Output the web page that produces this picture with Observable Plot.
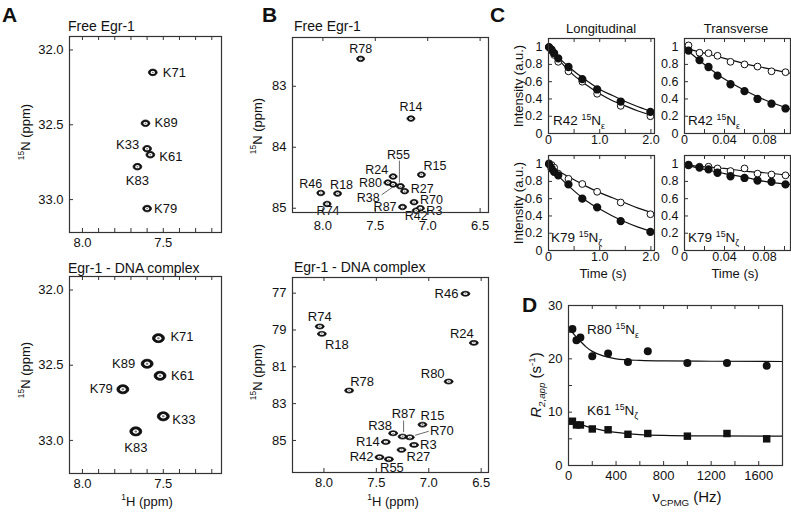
<!DOCTYPE html>
<html>
<head>
<meta charset="utf-8">
<script src="https://cdn.jsdelivr.net/npm/d3@7"></script>
<script src="https://cdn.jsdelivr.net/npm/@observablehq/plot@0.6"></script>
<style>
  html, body { margin: 0; padding: 0; background: #fff; }
  #fig { position: relative; width: 791px; height: 512px; overflow: hidden; font-family: "Liberation Sans", Arial, sans-serif; color: #111; }
  #fig sup, #fig sub { font-size: 0.65em; line-height: 0; }
  #fig svg { position: absolute; }
</style>
</head>
<body>
<div id="fig"></div>
<script>
// ---------------- DATA ----------------
// Panel A: lysine NZ peaks (1H ppm, 15N ppm)
const aFreeRes = ["K71", "K89", "K33", "K61", "K83", "K79"];
const aFreeH   = [7.565, 7.61, 7.60, 7.58, 7.66, 7.60];
const aFreeN   = [32.15, 32.49, 32.66, 32.70, 32.78, 33.06];
const aCplxRes = ["K71", "K89", "K61", "K79", "K33", "K83"];
const aCplxH   = [7.53, 7.60, 7.52, 7.75, 7.50, 7.67];
const aCplxN   = [32.32, 32.49, 32.57, 32.66, 32.84, 32.94];

// Panel B: arginine NE peaks
const bFreeRes = ["R78", "R14", "R24", "R15", "R55", "R80", "R38", "R27", "R46", "R18", "R74", "R70", "R87", "R3", "R42"];
const bFreeH   = [7.64, 7.16, 7.33, 7.06, 7.26, 7.38, 7.33, 7.22, 8.02, 7.86, 7.96, 7.13, 7.24, 7.07, 7.11];
const bFreeN   = [82.55, 83.53, 84.48, 84.45, 84.64, 84.58, 84.61, 84.72, 84.75, 84.76, 84.93, 84.90, 84.98, 85.00, 85.04];
const bCplxRes = ["R46", "R74", "R18", "R24", "R80", "R78", "R15", "R38", "R87", "R70", "R14", "R3", "R27", "R42", "R55"];
const bCplxH   = [6.65, 8.04, 8.02, 6.57, 6.81, 7.76, 7.06, 7.34, 7.25, 7.18, 7.41, 7.14, 7.26, 7.47, 7.38];
const bCplxN   = [77.03, 78.81, 79.21, 79.70, 81.80, 82.29, 84.14, 84.61, 84.79, 84.83, 85.08, 85.24, 85.51, 85.91, 86.02];

// Panel C: relaxation decays (intensity, a.u.)
const tLong  = [0.01, 0.06, 0.11, 0.19, 0.39, 0.66, 0.95, 1.41, 1.99];
const tTrans = [0.004, 0.015, 0.024, 0.033, 0.046, 0.060, 0.073, 0.087, 0.101];
const r42LongFilled  = [1.00, 0.97, 0.93, 0.87, 0.77, 0.63, 0.51, 0.37, 0.25];
const r42LongOpen    = [1.00, 0.96, 0.91, 0.83, 0.72, 0.60, 0.46, 0.32, 0.20];
const r42TransFilled = [0.96, 0.85, 0.77, 0.67, 0.57, 0.49, 0.40, 0.345, 0.29];
const r42TransOpen   = [1.02, 0.935, 0.93, 0.90, 0.83, 0.80, 0.775, 0.72, 0.71];
const k79LongFilled  = [1.00, 0.95, 0.91, 0.87, 0.765, 0.60, 0.50, 0.34, 0.215];
const k79LongOpen    = [1.01, 0.99, 0.96, 0.89, 0.83, 0.77, 0.68, 0.556, 0.42];
const k79TransFilled = [0.99, 0.96, 0.94, 0.90, 0.86, 0.84, 0.81, 0.795, 0.765];
const k79TransOpen   = [0.99, 0.97, 0.97, 0.95, 0.92, 0.95, 0.89, 0.88, 0.87];
// fitted curves
const fitTLong  = [0, 0.25, 0.5, 0.75, 1.0, 1.25, 1.5, 1.75, 2.07];
const fitTTrans = [0, 0.02, 0.04, 0.06, 0.08, 0.105];
const fitR42LongFilled  = [1.00, 0.85, 0.72, 0.61, 0.51, 0.44, 0.37, 0.31, 0.245];
const fitR42LongOpen    = [1.00, 0.82, 0.67, 0.56, 0.46, 0.38, 0.32, 0.26, 0.20];
const fitR42TransFilled = [0.99, 0.80, 0.63, 0.50, 0.39, 0.285];
const fitR42TransOpen   = [0.99, 0.93, 0.87, 0.81, 0.76, 0.70];
const fitK79LongFilled  = [1.00, 0.83, 0.69, 0.57, 0.48, 0.40, 0.33, 0.27, 0.21];
const fitK79LongOpen    = [1.00, 0.90, 0.82, 0.74, 0.67, 0.61, 0.55, 0.49, 0.43];
const fitK79TransFilled = [0.99, 0.94, 0.89, 0.85, 0.80, 0.765];
const fitK79TransOpen   = [0.99, 0.97, 0.95, 0.92, 0.90, 0.87];

// Panel D: relaxation dispersion
const nuCpmg = [33, 67, 100, 200, 333, 500, 667, 1000, 1333, 1667];
const r2R80  = [25.6, 23.5, 24.0, 20.5, 21.0, 19.4, 21.4, 19.2, 19.2, 18.7];
const r2K61  = [8.3, 7.6, 7.6, 6.85, 6.7, 5.85, 6.0, 5.5, 6.0, 5.0];
const fitNu     = [0, 50, 100, 150, 200, 300, 400, 600, 800, 1200, 1800];
const fitR2R80  = [26.0, 24.5, 23.3, 22.2, 21.4, 20.5, 20.0, 19.7, 19.6, 19.55, 19.5];
const fitR2K61  = [8.3, 8.0, 7.7, 7.35, 7.05, 6.55, 6.2, 5.8, 5.65, 5.55, 5.5];

// ---------------- LAYOUT / STYLE ----------------
const labelsAFree = { K71: [10, 0, "start"], K89: [9, 0, "start"], K33: [-8, -4, "end"], K61: [9, 2, "start"], K83: [0, 14, "middle"], K79: [7, 0, "start"] };
const labelsACplx = { K71: [12, -1, "start"], K89: [-12, 0, "end"], K61: [11, 0, "start"], K79: [-10, 0, "end"], K33: [9, 3, "start"], K83: [0, 16, "middle"] };
const labelsBFree = { R78: [0, -10, "middle"], R14: [0, -12, "middle"], R24: [-5, -7, "end"], R15: [2, -9, "start"], R55: [-2, -31, "middle"], R80: [-6, 0, "end"], R38: [-25, 14, "middle"], R27: [6, -2, "start"], R46: [-10, -9, "middle"], R18: [4, -9, "middle"], R74: [1, 7, "middle"], R70: [6, -2, "start"], R87: [-6, 0, "end"], R3: [6, 3, "start"], R42: [0, 5, "middle"] };
const labelsBCplx = { R46: [-7, 0, "end"], R74: [0, -10, "middle"], R18: [15, 11, "middle"], R24: [-12, -9, "middle"], R80: [-16, -8, "middle"], R78: [13, -9, "middle"], R15: [10, -9, "middle"], R38: [-13, -7, "middle"], R87: [1, -23, "middle"], R70: [20, -7, "start"], R14: [-6, 0, "end"], R3: [6, 0, "start"], R27: [5, 7, "start"], R42: [-6, 0, "end"], R55: [3, 9, "middle"] };
const leadersBFree = [{x1: 7.27, y1: 84.22, x2: 7.27, y2: 84.58}, {x1: 7.44, y1: 84.78, x2: 7.34, y2: 84.66}];
const leadersBCplx = [{x1: 7.24, y1: 83.92, x2: 7.24, y2: 84.55}, {x1: 7.00, y1: 84.50, x2: 7.13, y2: 84.72}];

const FONT = '"Liberation Sans", Arial, sans-serif';
const M = 40;
const fig = document.getElementById("fig");

function panel({frame, xDomain, yDomain, xTicks, xFmt, xMinor, yTicks, yFmt, yMinor, marks, fontSize = 13, tickLen = 4, xPad = 5}) {
  const [x0, y0, x1, y1] = frame;
  const fw = x1 - x0, fh = y1 - y0;
  const inward = [];
  if (xMinor) {
    inward.push(Plot.ruleX(xMinor, {x: d => d, insetTop: fh - tickLen, stroke: "#333"}));
    inward.push(Plot.ruleX(xMinor, {x: d => d, insetBottom: fh - tickLen, stroke: "#333"}));
  }
  if (yMinor) {
    inward.push(Plot.ruleY(yMinor, {y: d => d, insetRight: fw - tickLen, stroke: "#333"}));
  }
  const svg = Plot.plot({
    width: fw + 2 * M, height: fh + 2 * M,
    marginLeft: M, marginRight: M, marginTop: M, marginBottom: M,
    style: {fontFamily: FONT, fontSize: fontSize + "px", color: "#111", background: "transparent", overflow: "visible"},
    x: {domain: xDomain}, y: {domain: yDomain},
    marks: [
      ...inward,
      Plot.axisX({ticks: xTicks, tickFormat: xFmt, tickSize: 0, tickPadding: xPad, label: null, fontSize}),
      Plot.axisY({ticks: yTicks, tickFormat: yFmt, tickSize: 0, tickPadding: 6, label: null, fontSize}),
      ...marks,
      Plot.frame({stroke: "#333", strokeWidth: 1.2})
    ]
  });
  svg.style.left = (x0 - M) + "px";
  svg.style.top = (y0 - M) + "px";
  fig.appendChild(svg);
}

function ellipseSymbol(aspect) {
  const k = 0.5523;
  return {
    draw(ctx, size) {
      const r = Math.sqrt(size / Math.PI);
      const rx = r * aspect, ry = r / aspect;
      ctx.moveTo(rx, 0);
      ctx.bezierCurveTo(rx, ry * k, rx * k, ry, 0, ry);
      ctx.bezierCurveTo(-rx * k, ry, -rx, ry * k, -rx, 0);
      ctx.bezierCurveTo(-rx, -ry * k, -rx * k, -ry, 0, -ry);
      ctx.bezierCurveTo(rx * k, -ry, rx, -ry * k, rx, 0);
      ctx.closePath();
    }
  };
}

function peakMarks(res, H, N, labels, r, aspect, fontSize = 13) {
  const data = res.map((id, i) => ({id, h: H[i], n: N[i]}));
  const sym = ellipseSymbol(aspect);
  const marks = [
    Plot.dot(data, {x: "h", y: "n", r, symbol: sym, fill: "#111", stroke: "#111", strokeWidth: 0.8}),
    Plot.dot(data, {x: "h", y: "n", r: r * 0.5, symbol: sym, fill: "#fff"}),
    Plot.dot(data, {x: "h", y: "n", r: r * 0.22, symbol: sym, fill: "#777"})
  ];
  for (const d of data) {
    const [dx, dy, anchor] = labels[d.id];
    marks.push(Plot.text([d], {x: "h", y: "n", text: "id", dx, dy, textAnchor: anchor, fontSize, fill: "#111"}));
  }
  return marks;
}

function leaderMarks(leaders) {
  return [Plot.link(leaders, {x1: "x1", y1: "y1", x2: "x2", y2: "y2", stroke: "#444", strokeWidth: 0.8})];
}

function text(html, x, y, {size = 13, anchor = "start", rotate = false, weight = "normal"} = {}) {
  const el = document.createElement("div");
  el.innerHTML = html;
  Object.assign(el.style, {position: "absolute", left: x + "px", top: y + "px", fontSize: size + "px", fontWeight: weight, whiteSpace: "nowrap", lineHeight: "1", color: "#111"});
  const tx = anchor === "middle" ? "-50%" : anchor === "end" ? "-100%" : "0";
  el.style.transform = `translate(${rotate ? "-50%" : tx},-50%)` + (rotate ? " rotate(-90deg)" : "");
  fig.appendChild(el);
}

const f1 = d => d.toFixed(1);
const fInt = d => String(d);
const fInten = d => (d === 0 || d === 1) ? String(d) : d.toFixed(1);
const aMinor = [8.0, 7.9, 7.8, 7.7, 7.6, 7.5, 7.4, 7.3, 7.2];

// ---------------- PANEL A ----------------
panel({
  frame: [69, 36, 221, 232], xDomain: [8.08, 7.14], yDomain: [33.22, 31.91],
  xTicks: [8.0, 7.5], xFmt: f1, xMinor: aMinor,
  yTicks: [32.0, 32.5, 33.0], yFmt: f1, yMinor: [32.0, 32.5, 33.0],
  marks: peakMarks(aFreeRes, aFreeH, aFreeN, labelsAFree, 3.8, 1.15)
});
panel({
  frame: [69, 276, 221, 473], xDomain: [8.08, 7.14], yDomain: [33.22, 31.91],
  xTicks: [8.0, 7.5], xFmt: f1, xMinor: aMinor,
  yTicks: [32.0, 32.5, 33.0], yFmt: f1, yMinor: [32.0, 32.5, 33.0],
  marks: peakMarks(aCplxRes, aCplxH, aCplxN, labelsACplx, 5.2, 1.15)
});

// ---------------- PANEL B ----------------
panel({
  frame: [292, 37, 488, 212], xDomain: [8.29, 6.42], yDomain: [85.07, 82.2],
  xTicks: [8.0, 7.5, 7.0, 6.5], xFmt: f1, xMinor: [8.0, 7.5, 7.0, 6.5], xPad: 8,
  yTicks: [83, 84, 85], yFmt: fInt, yMinor: [83, 84, 85],
  marks: [...leaderMarks(leadersBFree), ...peakMarks(bFreeRes, bFreeH, bFreeN, labelsBFree, 3.3, 1.2, 12.5)]
});
panel({
  frame: [292, 277, 488, 472], xDomain: [8.3, 6.43], yDomain: [86.74, 76.15],
  xTicks: [8.0, 7.5, 7.0, 6.5], xFmt: f1, xMinor: [8.0, 7.5, 7.0, 6.5],
  yTicks: [77, 79, 81, 83, 85], yFmt: fInt, yMinor: [77, 79, 81, 83, 85],
  marks: [...leaderMarks(leadersBCplx), ...peakMarks(bCplxRes, bCplxH, bCplxN, labelsBCplx, 3.3, 1.35)]
});

// ---------------- PANEL C ----------------
function decayMarks(t, filled, open, tf, fitFilled, fitOpen) {
  return [
    Plot.line(tf.map((x, i) => ({x, y: fitFilled[i]})), {x: "x", y: "y", curve: "monotone-x", stroke: "#111", strokeWidth: 1.2}),
    Plot.line(tf.map((x, i) => ({x, y: fitOpen[i]})), {x: "x", y: "y", curve: "monotone-x", stroke: "#111", strokeWidth: 1.2}),
    Plot.dot(t.map((x, i) => ({x, y: open[i]})), {x: "x", y: "y", r: 3.4, fill: "#fff", stroke: "#111", strokeWidth: 1}),
    Plot.dot(t.map((x, i) => ({x, y: filled[i]})), {x: "x", y: "y", r: 3.4, fill: "#111", stroke: "#111"})
  ];
}
const cY = {yDomain: [0, 1.1], yTicks: [0, 0.2, 0.4, 0.6, 0.8, 1], yFmt: fInten, yMinor: [0.2, 0.4, 0.6, 0.8, 1], fontSize: 12.5, xPad: 2};
const cLongX = {xDomain: [0, 2.07], xTicks: [0, 1.0, 2.0], xFmt: d => d === 0 ? "0" : d.toFixed(1), xMinor: [0.5, 1.0, 1.5, 2.0]};
const cTransX = {xDomain: [0, 0.106], xTicks: [0, 0.04, 0.08], xFmt: d => d === 0 ? "0" : d.toFixed(2), xMinor: [0.02, 0.04, 0.06, 0.08, 0.10]};
panel({frame: [548, 38, 654, 133], ...cY, ...cLongX,
  marks: decayMarks(tLong, r42LongFilled, r42LongOpen, fitTLong, fitR42LongFilled, fitR42LongOpen)});
panel({frame: [684, 38, 790, 133], ...cY, ...cTransX,
  marks: decayMarks(tTrans, r42TransFilled, r42TransOpen, fitTTrans, fitR42TransFilled, fitR42TransOpen)});
panel({frame: [548, 155, 654, 250], ...cY, ...cLongX,
  marks: decayMarks(tLong, k79LongFilled, k79LongOpen, fitTLong, fitK79LongFilled, fitK79LongOpen)});
panel({frame: [684, 155, 790, 250], ...cY, ...cTransX,
  marks: decayMarks(tTrans, k79TransFilled, k79TransOpen, fitTTrans, fitK79TransFilled, fitK79TransOpen)});

// ---------------- PANEL D ----------------
panel({
  frame: [568, 305, 782, 465], xDomain: [0, 1800], yDomain: [0, 30],
  xTicks: [0, 400, 800, 1200, 1600], xFmt: fInt, xMinor: [200, 400, 600, 800, 1000, 1200, 1400, 1600],
  yTicks: [0, 10, 20, 30], yFmt: fInt, yMinor: [5, 10, 15, 20, 25],
  marks: [
    Plot.line(fitNu.map((x, i) => ({x, y: fitR2R80[i]})), {x: "x", y: "y", curve: "monotone-x", stroke: "#111", strokeWidth: 1.2}),
    Plot.line(fitNu.map((x, i) => ({x, y: fitR2K61[i]})), {x: "x", y: "y", curve: "monotone-x", stroke: "#111", strokeWidth: 1.2}),
    Plot.dot(nuCpmg.map((x, i) => ({x, y: r2R80[i]})), {x: "x", y: "y", r: 4, fill: "#111"}),
    Plot.dot(nuCpmg.map((x, i) => ({x, y: r2K61[i]})), {x: "x", y: "y", r: 4.2, symbol: "square", fill: "#111"})
  ]
});

// ---------------- TEXT ----------------
text("A", 2, 14, {size: 21, weight: "bold"});
text("B", 262, 14, {size: 21, weight: "bold"});
text("C", 490, 14, {size: 21, weight: "bold"});
text("D", 522, 304, {size: 21, weight: "bold"});

text("Free Egr-1", 68, 26, {size: 14});
text("Egr-1 - DNA complex", 68, 268, {size: 14});
text("Free Egr-1", 294, 26, {size: 14});
text("Egr-1 - DNA complex", 294, 267, {size: 14});

text("<sup>15</sup>N (ppm)", 25, 132, {rotate: true});
text("<sup>15</sup>N (ppm)", 25, 370, {rotate: true});
text("<sup>15</sup>N (ppm)", 257, 126, {rotate: true});
text("<sup>15</sup>N (ppm)", 257, 372, {rotate: true});
text("<sup>1</sup>H (ppm)", 147, 501, {anchor: "middle"});
text("<sup>1</sup>H (ppm)", 393, 501, {anchor: "middle"});

text("Longitudinal", 601, 28, {anchor: "middle"});
text("Transverse", 736, 28, {anchor: "middle"});
text("Intensity (a.u.)", 518, 86, {rotate: true});
text("Intensity (a.u.)", 518, 203, {rotate: true});
text("Time (s)", 603, 273, {anchor: "middle"});
text("Time (s)", 735, 273, {anchor: "middle"});
text("R42 <sup>15</sup>N<sub>&epsilon;</sub>", 553, 121, {size: 13.5});
text("R42 <sup>15</sup>N<sub>&epsilon;</sub>", 688, 121, {size: 13.5});
text("K79 <sup>15</sup>N<sub>&zeta;</sub>", 551, 238, {size: 13.5});
text("K79 <sup>15</sup>N<sub>&zeta;</sub>", 688, 238, {size: 13.5});

text("R80 <sup>15</sup>N<sub>&epsilon;</sub>", 587, 330, {size: 13.5});
text("K61 <sup>15</sup>N<sub>&zeta;</sub>", 587, 411, {size: 13.5});
text("<i>R</i><sub><i>2,app</i></sub> (s<sup>-1</sup>)", 535, 385, {size: 15, rotate: true});
text("&nu;<sub>CPMG</sub> (Hz)", 687, 496, {size: 15, anchor: "middle"});
</script>
</body>
</html>
